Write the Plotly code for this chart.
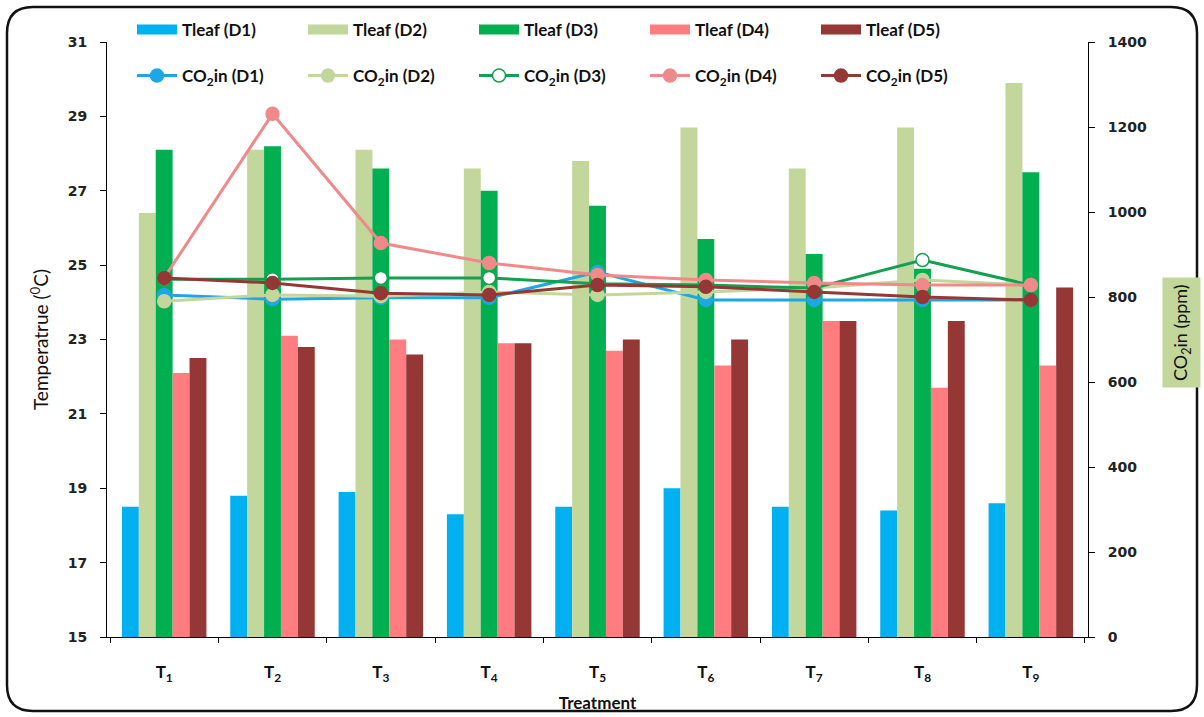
import plotly.graph_objects as go

# ---------------- data ----------------
treatments = ["T1", "T2", "T3", "T4", "T5", "T6", "T7", "T8", "T9"]
tick_labels = ["T<sub>1</sub>", "T<sub>2</sub>", "T<sub>3</sub>", "T<sub>4</sub>", "T<sub>5</sub>",
               "T<sub>6</sub>", "T<sub>7</sub>", "T<sub>8</sub>", "T<sub>9</sub>"]

tleaf_d1 = [18.5, 18.8, 18.9, 18.3, 18.5, 19.0, 18.5, 18.4, 18.6]
tleaf_d2 = [26.4, 28.1, 28.1, 27.6, 27.8, 28.7, 27.6, 28.7, 29.9]
tleaf_d3 = [28.1, 28.2, 27.6, 27.0, 26.6, 25.7, 25.3, 24.9, 27.5]
tleaf_d4 = [22.1, 23.1, 23.0, 22.9, 22.7, 22.3, 23.5, 21.7, 22.3]
tleaf_d5 = [22.5, 22.8, 22.6, 22.9, 23.0, 23.0, 23.5, 23.5, 24.4]

co2_d1 = [805, 795, 798, 798, 859, 793, 793, 793, 793]
co2_d2 = [790, 805, 802, 812, 805, 812, 821, 840, 828]
co2_d3 = [842, 842, 845, 845, 831, 828, 821, 887, 828]
co2_d4 = [845, 1231, 927, 880, 852, 840, 833, 828, 828]
co2_d5 = [845, 833, 809, 805, 828, 824, 812, 800, 793]

bar_names = ["Tleaf (D1)", "Tleaf (D2)", "Tleaf (D3)", "Tleaf (D4)", "Tleaf (D5)"]
line_names = ["CO<sub>2</sub>in (D1)", "CO<sub>2</sub>in (D2)", "CO<sub>2</sub>in (D3)",
              "CO<sub>2</sub>in (D4)", "CO<sub>2</sub>in (D5)"]

# ---------------- styling ----------------
bar_colors = ["#00b0f0", "#c3d69b", "#00b050", "#ff7c80", "#953735"]
line_colors = ["#1ea7e6", "#c3d69b", "#14a050", "#f08a8a", "#953735"]
marker_fill = ["#1ea7e6", "#c3d69b", "#ffffff", "#f08a8a", "#953735"]

W, H = 1204, 717
L, R, T, B = 107, 116, 42, 80
PW, PH = W - L - R, H - T - B


def px(x):
    return (x - L) / PW


def py(y):
    return (H - B - y) / PH


fig = go.Figure()

bars = [tleaf_d1, tleaf_d2, tleaf_d3, tleaf_d4, tleaf_d5]
lines = [co2_d1, co2_d2, co2_d3, co2_d4, co2_d5]

for name, vals, col in zip(bar_names, bars, bar_colors):
    fig.add_trace(go.Bar(x=treatments, y=vals, name=name, marker=dict(color=col, line=dict(width=0)),
                         showlegend=False, yaxis="y"))
    # legend swatch
    fig.add_trace(go.Scatter(x=[None], y=[None], mode="lines", name=name,
                             line=dict(color=col, width=12), legend="legend", showlegend=True))

for name, vals, col, mf in zip(line_names, lines, line_colors, marker_fill):
    fig.add_trace(go.Scatter(x=treatments, y=vals, name=name, mode="lines+markers", yaxis="y2",
                             line=dict(color=col, width=3),
                             marker=dict(size=13, color=mf, line=dict(color=col, width=1.5)),
                             legend="legend2"))

font_tick = dict(family="DejaVu Sans", size=14, color="#222222", weight="bold")
font_leg = dict(family="Lato", size=17, color="#111111", weight="bold")

# rounded frame
x0, y0, x1, y1, r = 7, 7, 1197, 711, 26
path = (f"M {px(x0 + r)},{py(y0)} L {px(x1 - r)},{py(y0)} Q {px(x1)},{py(y0)} {px(x1)},{py(y0 + r)} "
        f"L {px(x1)},{py(y1 - r)} Q {px(x1)},{py(y1)} {px(x1 - r)},{py(y1)} "
        f"L {px(x0 + r)},{py(y1)} Q {px(x0)},{py(y1)} {px(x0)},{py(y1 - r)} "
        f"L {px(x0)},{py(y0 + r)} Q {px(x0)},{py(y0)} {px(x0 + r)},{py(y0)} Z")

fig.update_layout(
    width=W, height=H,
    margin=dict(l=L, r=R, t=T, b=B, autoexpand=False),
    paper_bgcolor="white", plot_bgcolor="white",
    barmode="group", bargap=0.22, bargroupgap=0,
    xaxis=dict(type="category", tickmode="array", tickvals=treatments, ticktext=tick_labels,
               showline=True, linecolor="#000000", linewidth=1, ticks="outside", ticklen=5,
               tickson="boundaries", tickcolor="#000000", showgrid=False,
               tickfont=dict(family="Lato", size=17, color="#111111", weight="bold"),
               ticklabelstandoff=20,
               title=dict(text="Treatment", font=dict(family="Lato", size=17, color="#111111", weight="bold"),
                          standoff=13)),
    yaxis=dict(range=[15, 31], tick0=15, dtick=2, showline=True, linecolor="#000000", linewidth=1,
               ticks="outside", ticklen=6, tickcolor="#000000", showgrid=False, zeroline=False,
               tickfont=font_tick, ticklabelstandoff=10,
               title=dict(text="Temperatrue (<sup>0</sup>C)",
                          font=dict(family="Lato", size=19, color="#111111"), standoff=14)),
    yaxis2=dict(range=[0, 1400], tick0=0, dtick=200, overlaying="y", side="right", showline=True,
                linecolor="#000000", linewidth=1, ticks="outside", ticklen=6, tickcolor="#000000",
                showgrid=False, zeroline=False, tickfont=font_tick, ticklabelstandoff=10),
    legend=dict(orientation="h", x=px(132), xanchor="left", y=py(30), yanchor="middle",
                entrywidth=116, entrywidthmode="pixels", font=font_leg, bgcolor="rgba(0,0,0,0)",
                itemwidth=40),
    legend2=dict(orientation="h", x=px(132), xanchor="left", y=py(76), yanchor="middle",
                 entrywidth=116, entrywidthmode="pixels", font=font_leg, bgcolor="rgba(0,0,0,0)",
                 itemwidth=40),
    shapes=[dict(type="path", xref="paper", yref="paper", path=path,
                 line=dict(color="#111111", width=2.5), fillcolor="rgba(0,0,0,0)", layer="above")],
    annotations=[dict(text="CO<sub>2</sub>in (ppm)", xref="paper", yref="paper", x=px(1181), y=py(333),
                      textangle=-90, showarrow=False, bgcolor="#c4d79b",
                      font=dict(family="Lato", size=18, color="#111111"), borderpad=6,
                      xanchor="center", yanchor="middle")],
)

fig.write_html("out.html", config={"displayModeBar": False},
               post_script="document.body.style.margin='0';document.body.style.overflow='hidden';")
